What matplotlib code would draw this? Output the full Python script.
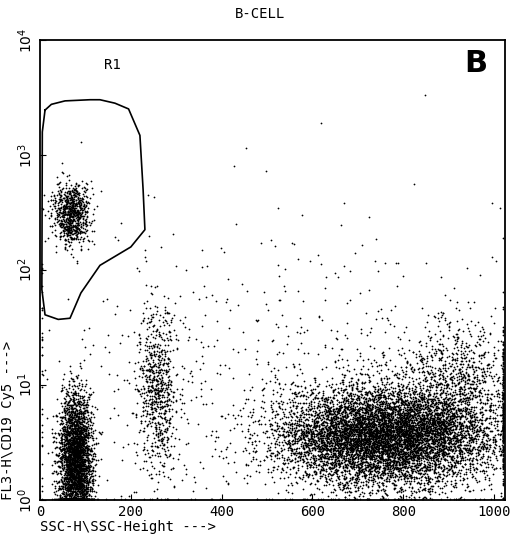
import numpy as np
import matplotlib.pyplot as plt

plt.rcParams['font.family'] = ['DejaVu Sans Mono']

# R1 gate outline (SSC, log10 FL3)
gate_x = [11, 25, 55, 110, 132, 165, 195, 220, 227, 231, 200, 132, 90, 66, 40, 11, 4, 5, 11]
gate_logy = [3.39, 3.44, 3.47, 3.48, 3.48, 3.45, 3.40, 3.17, 2.70, 2.35, 2.20, 2.04, 1.80, 1.58, 1.57, 1.61, 1.83, 3.2, 3.39]

# populations: centre x, sd x, centre log y, sd log y, events
pop_names = ["B cells", "lymphocytes", "monocytes", "granulocytes", "gran high", "debris"]
pop_cx = [68, 78, 258, 760, 920, 500]
pop_sx = [20, 18, 22, 120, 70, 300]
pop_cy = [2.48, 0.35, 0.95, 0.55, 1.0, 1.0]
pop_sy = [0.14, 0.28, 0.35, 0.22, 0.3, 0.7]
pop_n = [800, 3000, 700, 8000, 900, 700]

rng = np.random.default_rng(3)
xs, ys = [], []
for cx, sx, cy, sy, n in zip(pop_cx, pop_sx, pop_cy, pop_sy, pop_n):
    x = rng.normal(cx, sx, n)
    ly = rng.normal(cy, sy, n)
    ly = np.clip(ly, 0.01, 3.95)
    x = np.clip(x, 5, 1020)
    xs.append(x)
    ys.append(10 ** ly)
x = np.concatenate(xs)
y = np.concatenate(ys)

fig = plt.figure(figsize=(5.2, 5.47), dpi=100)
ax = fig.add_axes([0.077, 0.086, 0.894, 0.841])
ax.scatter(x, y, s=1.6, c="black", linewidths=0)
ax.plot(gate_x, 10 ** np.array(gate_logy), color="black", lw=1.2)
ax.set_yscale("log")
ax.set_xlim(0, 1024)
ax.set_ylim(1, 1e4)
ax.set_xticks([0, 200, 400, 600, 800, 1000])
ax.set_yticks([1, 10, 100, 1000, 10000])
ax.set_yticklabels([r"$10^0$", r"$10^1$", r"$10^2$", r"$10^3$", r"$10^4$"], rotation=90, va="center")
ax.minorticks_off()
ax.tick_params(direction="in", length=4, labelsize=10)
ax.set_xlabel(r"SSC-H\SSC-Height --->", fontsize=10, loc="left", labelpad=1)
ax.set_ylabel(r"FL3-H\CD19 Cy5 --->", fontsize=10, loc="bottom", labelpad=1)
for s in ax.spines.values():
    s.set_linewidth(1.3)
ax.text(140, 10 ** 3.75, "R1", fontsize=10)
ax.text(985, 10 ** 3.72, "B", fontsize=22, fontweight="bold", ha="right", family="DejaVu Sans")
fig.text(0.5, 0.975, "B-CELL", ha="center", va="center", fontsize=10)
fig.savefig("out.png")
